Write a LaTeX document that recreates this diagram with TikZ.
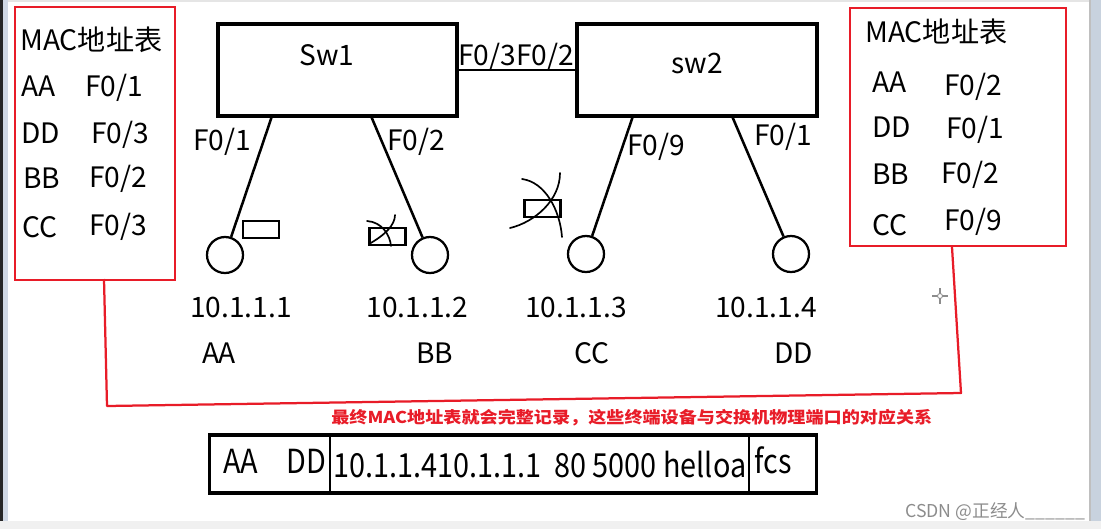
\documentclass[tikz,border=0pt]{standalone}
\usepackage{fontspec}
\setmainfont{Noto Sans CJK SC}
\usetikzlibrary{calc}
\definecolor{macred}{RGB}{232,28,40}
\definecolor{chrome}{RGB}{208,216,228}
\definecolor{scrollbar}{RGB}{200,210,222}
\begin{document}
\begin{tikzpicture}[
    x=0.025cm,y=-0.025cm,
    every node/.style={font=\fontsize{20}{24}\selectfont, inner sep=0pt},
    txt/.style={anchor=base west},
    switch/.style={draw, line width=2.2pt, minimum width=5.975cm, minimum height=2.3cm},
    host/.style={draw, circle, line width=1.6pt, minimum size=0.9cm},
    link/.style={line width=1.8pt},
    packet/.style={draw, line width=1.6pt, minimum width=0.9cm, minimum height=0.425cm},
    scrib/.style={line width=1.2pt, line cap=round},
    tablebox/.style={draw=macred, line width=1.5pt},
    redline/.style={draw=macred, line width=1.6pt, line join=round},
    frame/.style={draw, line width=2.2pt, minimum width=15.15cm, minimum height=1.45cm},
    framed/.style={anchor=base west, yscale=1.15, font=\fontsize{20.5}{24}\selectfont}
]
    \useasboundingbox (0,0) rectangle (1101,529);
    % window chrome
    \fill[black!85] (0,0) rectangle (3,529);
    \fill[chrome] (3,0) rectangle (8,529);
    \fill[black!10] (8,0) rectangle (1089,2);
    \fill[scrollbar] (1089,0) rectangle (1101,529);
    \fill[black!25] (1089,0) rectangle (1091,529);
    \fill[black!6] (0,521) rectangle (1101,529);

    % MAC tables
    \node[tablebox, minimum width=4cm, minimum height=6.825cm] (tabL) at (95,143.5) {};
    \node[tablebox, minimum width=5.4cm, minimum height=5.95cm] (tabR) at (958,127) {};

    \node[txt] (macL) at (20,50) {MAC地址表};
    \node[txt] at (21,96) {AA};  \node[txt] at (85,96) {F0/1};
    \node[txt] at (21,143) {DD}; \node[txt] at (91,143) {F0/3};
    \node[txt] at (23,188) {BB}; \node[txt] at (89,187) {F0/2};
    \node[txt] at (22,237) {CC}; \node[txt] at (89,235) {F0/3};

    \node[txt] (macR) at (865,42) {MAC地址表};
    \node[txt] at (872,92) {AA};  \node[txt] at (944,95) {F0/2};
    \node[txt] at (872,137) {DD}; \node[txt] at (946,138) {F0/1};
    \node[txt] at (872,184) {BB}; \node[txt] at (941,183) {F0/2};
    \node[txt] at (872,235) {CC}; \node[txt] at (944,230) {F0/9};

    % switches
    \node[switch] (sw1) at (337.5,70) {};
    \node[switch, minimum width=6cm] (sw2) at (697,70) {};
    \node[anchor=base] at (327,65) {Sw1};
    \node[anchor=base] at (697,73) {sw2};
    \draw[link] (sw1) -- (sw2);
    \node[txt] at (458,65) {F0/3F0/2};

    % hosts
    \node[host] (h1) at (225,255) {};
    \node[host] (h2) at (430,255) {};
    \node[host] (h3) at (586,254) {};
    \node[host] (h4) at (791,254) {};
    \coordinate (p1) at (272,116);
    \coordinate (p2) at (371,116);
    \coordinate (p3) at (633,116);
    \coordinate (p4) at (732,116);
    \draw[link] (p1) -- (h1);
    \draw[link] (p2) -- (h2);
    \draw[link] (p3) -- (h3);
    \draw[link] (p4) -- (h4);
    \node[txt] at (193,150) {F0/1};
    \node[txt] at (387,150) {F0/2};
    \node[txt] at (627,155) {F0/9};
    \node[txt] at (754,145) {F0/1};

    \foreach \x/\ip/\y/\mac in {241/10.1.1.1/219/AA, 417.5/10.1.1.2/434.5/BB, 576/10.1.1.3/591.5/CC, 766/10.1.1.4/793.5/DD} {
        \node[anchor=base] at (\x,317) {\ip};
        \node[anchor=base] at (\y,363) {\mac};
    }

    % frames on the way
    \node[packet] (pk1) at (261,229.5) {};
    \node[packet] (pk2) at (387.5,236.5) {};
    \node[packet] (pk3) at (542.5,208.5) {};
    \draw[scrib] (367,221) .. controls (382,222) and (390,235) .. (391,246);
    \draw[scrib] (369,244) .. controls (385,235) and (395,225) .. (395,215);
    \draw[scrib] (522,179) .. controls (545,182) and (560,210) .. (562,237);
    \draw[scrib] (560,173) .. controls (560,200) and (535,222) .. (510,228);

    % cursor
    \draw[black!45, line width=1pt] (932,296) -- (948,296) (940,288) -- (940,304);
    \draw[black!45, fill=white, line width=0.6pt] (940,296) circle (2.5);

    % red bracket
    \coordinate (rl) at (104,279);
    \coordinate (rr) at (952,247);
    \draw[redline] (rl) -- (107,406) -- (961,393) -- (rr);
    \node[anchor=west, text=macred, xscale=1.11, font=\bfseries\fontsize{11.6}{13}\selectfont] (note) at (331,418)
        {最终MAC地址表就会完整记录，这些终端设备与交换机物理端口的对应关系};

    % frame
    \node[frame] (pkt) at (513,464) {};
    \draw[line width=1.6pt] (330,435) -- (330,491);
    \draw[line width=1.6pt] (749,435) -- (749,495);
    \node[framed] at (223,473) {AA};
    \node[framed] at (286,473) {DD};
    \node[framed] at (333,477) {10.1.1.410.1.1.1\ \ 80 5000 helloa};
    \node[framed] at (754,473) {fcs};

    \node[txt, text=black!45, font=\fontsize{12.6}{14}\selectfont] at (905,517) {CSDN @正经人\_\_\_\_\_\_};
\end{tikzpicture}
\end{document}
